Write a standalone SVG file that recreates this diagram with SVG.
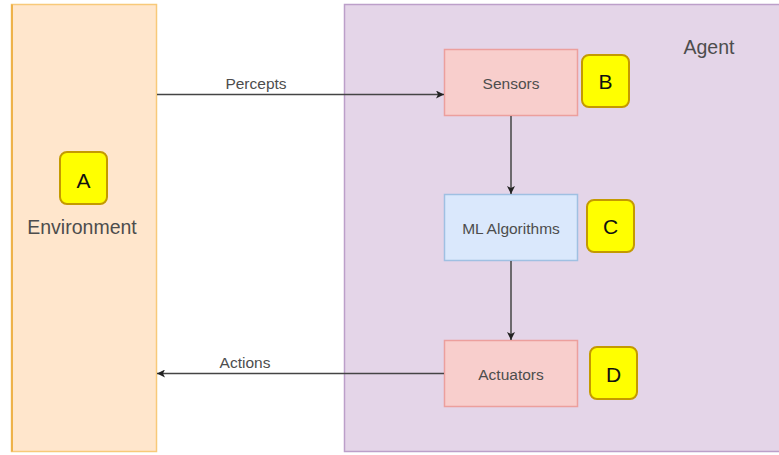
<svg xmlns="http://www.w3.org/2000/svg" width="779" height="455" viewBox="0 0 779 455">
<defs>
<marker id="ah" viewBox="0 0 10 10" refX="10" refY="5" markerWidth="8" markerHeight="8" markerUnits="userSpaceOnUse" orient="auto">
<path d="M0,0 L10,5 L0,10 L2.5,5 Z" fill="#222"/>
</marker>
<style>
.lbl{font-family:"Liberation Sans",Arial,sans-serif;fill:#4d4d4d;text-anchor:middle}
.badge{fill:#ffff00;stroke:#c49a00;stroke-width:2}
.bt{font-family:"Liberation Sans",Arial,sans-serif;font-size:21px;fill:#111;text-anchor:middle}
.red{fill:#f8cecc;stroke:#ec9f9d;stroke-width:1.5}
.edge{stroke:#444;stroke-width:1.5;fill:none}
</style>
</defs>
<rect width="779" height="455" fill="#ffffff"/>
<g id="environment">
<rect x="11.5" y="4.5" width="145" height="447" fill="#ffe6cc" stroke="#f8c979" stroke-width="1.5"/>
<line x1="12" y1="4.5" x2="12" y2="451.5" stroke="#eeb24a" stroke-width="2"/>
<text class="lbl" x="82" y="234" font-size="19.5">Environment</text>
</g>
<g id="agent">
<rect x="344.5" y="4.5" width="440" height="447" fill="#e4d5e8" stroke="#bc9fc9" stroke-width="1.5"/>
<text class="lbl" x="709" y="54" font-size="19.5">Agent</text>
</g>
<g id="badgeA">
<rect class="badge" x="60" y="152" width="47" height="52" rx="7"/>
<text class="bt" x="83.5" y="188">A</text>
</g>
<g id="sensors">
<rect class="red" x="444.5" y="49.5" width="133" height="66"/>
<text class="lbl" x="511" y="89" font-size="15.5">Sensors</text>
</g>
<g id="badgeB">
<rect class="badge" x="582" y="55" width="47" height="52" rx="7"/>
<text class="bt" x="605.5" y="89">B</text>
</g>
<g id="ml">
<rect x="444.5" y="194.5" width="133" height="66" fill="#dae8fc" stroke="#9fc0e2" stroke-width="1.5"/>
<text class="lbl" x="511" y="234" font-size="15.5">ML Algorithms</text>
</g>
<g id="badgeC">
<rect class="badge" x="587" y="200" width="47" height="52" rx="7"/>
<text class="bt" x="610.5" y="234">C</text>
</g>
<g id="actuators">
<rect class="red" x="444.5" y="340.5" width="133" height="66"/>
<text class="lbl" x="511" y="380" font-size="15.5">Actuators</text>
</g>
<g id="badgeD">
<rect class="badge" x="590" y="347" width="47" height="52" rx="7"/>
<text class="bt" x="613.5" y="382">D</text>
</g>
<g id="connectors">
<line class="edge" x1="157" y1="94.5" x2="444" y2="94.5" marker-end="url(#ah)"/>
<text class="lbl" x="256" y="89" font-size="15.5">Percepts</text>
<line class="edge" x1="511" y1="116" x2="511" y2="194" marker-end="url(#ah)"/>
<line class="edge" x1="511" y1="261" x2="511" y2="340" marker-end="url(#ah)"/>
<line class="edge" x1="444" y1="373.5" x2="157" y2="373.5" marker-end="url(#ah)"/>
<text class="lbl" x="245" y="368" font-size="15.5">Actions</text>
</g>
</svg>
